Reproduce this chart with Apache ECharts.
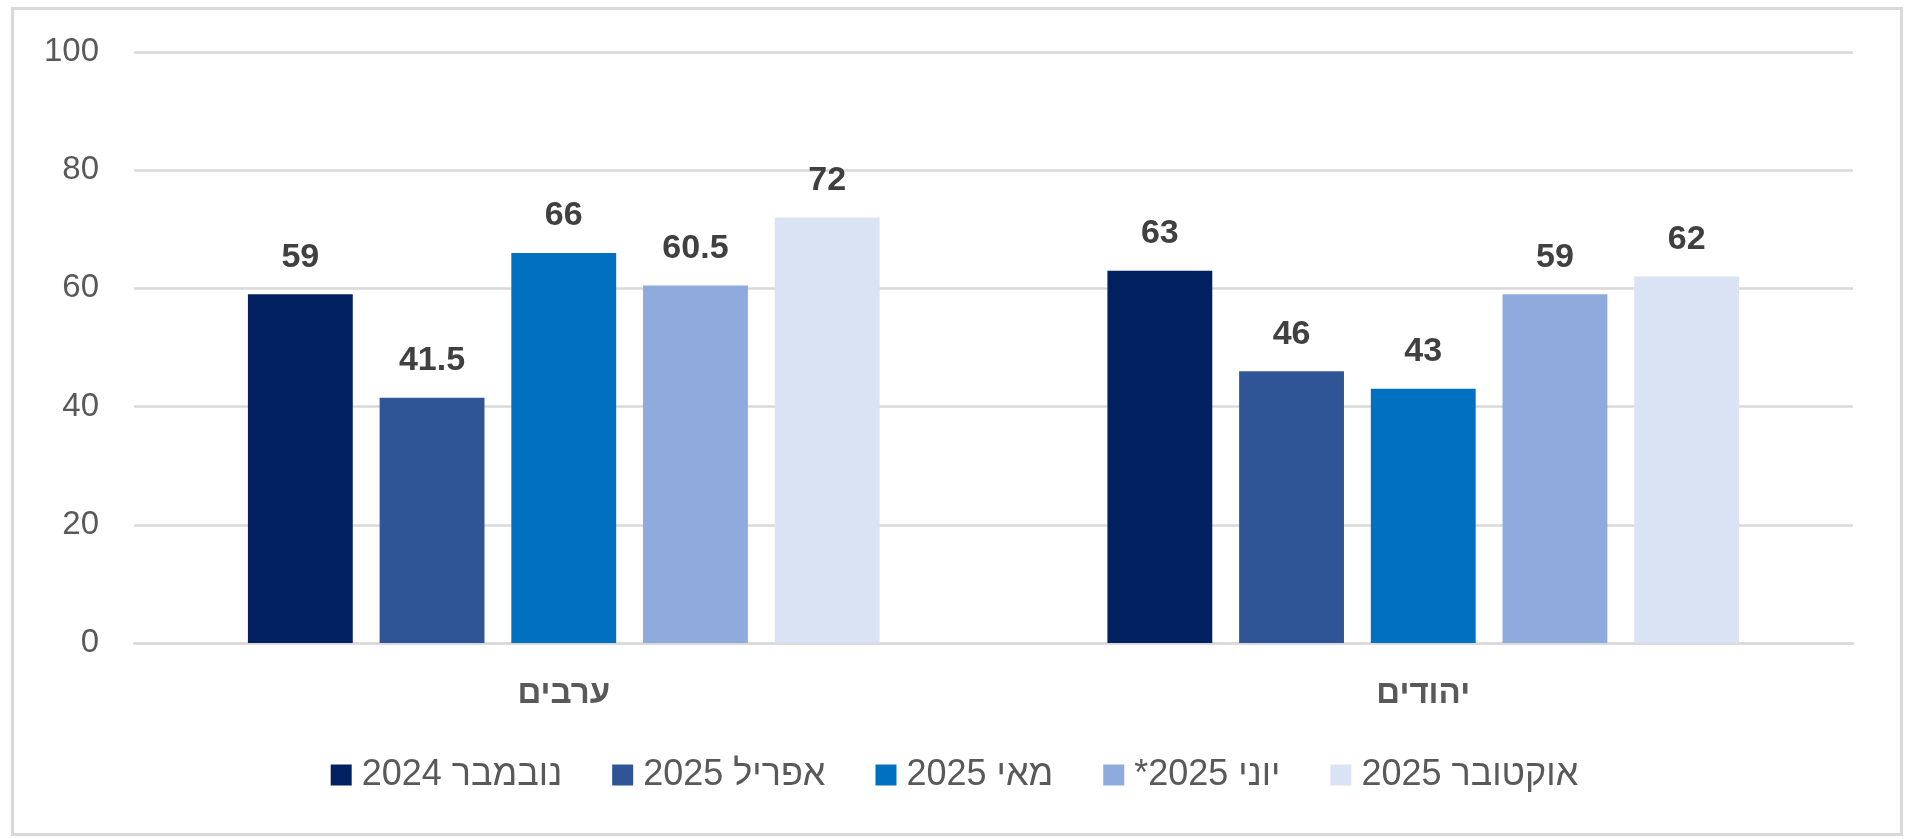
<!DOCTYPE html>
<html><head><meta charset="utf-8">
<script src="https://cdn.jsdelivr.net/npm/echarts@6/dist/echarts.min.js"></script>
<style>html,body{margin:0;padding:0;background:#fff}#c{width:1909px;height:839px}</style>
</head><body><div id="c"></div>
<script>
const categories = ['ערבים', 'יהודים'];
const seriesNames = ['נובמבר 2024', 'אפריל 2025', 'מאי 2025', 'יוני 2025*\u200F', 'אוקטובר 2025'];
const novData = [59, 63];
const aprData = [41.5, 46];
const mayData = [66, 43];
const junData = [60.5, 59];
const octData = [72, 62];
const yTicks = [0, 20, 40, 60, 80, 100];
const colors = ['#002060', '#2F5597', '#0070C0', '#8FAADC', '#DAE3F3'];
const allData = [novData, aprData, mayData, junData, octData];

const FONT = 'Liberation Sans, Arial, sans-serif';
const chart = echarts.init(document.getElementById('c'));
chart.setOption({
  animation: false,
  color: colors,
  graphic: [{type:'rect', left: 10, top: 6, shape:{width:1889, height:826}, style:{fill:'none', stroke:'#D9D9D9', lineWidth:3}, silent:true}],
  grid: {left: 134, right: 56, top: 52, bottom: 196},
  legend: {
    top: 752, left: 'center', itemWidth: 21, itemHeight: 21, itemGap: 50,
    icon: 'rect',
    textStyle: {fontFamily: FONT, fontSize: 36, color: '#595959', padding: [0,0,0,5]},
    data: seriesNames
  },
  xAxis: {
    type: 'category', data: categories,
    axisTick: {show: false},
    axisLine: {lineStyle: {color: '#D9D9D9', width: 2.5}},
    axisLabel: {fontFamily: FONT, fontSize: 33, fontWeight: 'bold', color: '#595959', margin: 34}
  },
  yAxis: {
    type: 'value', min: yTicks[0], max: yTicks[yTicks.length-1], interval: 20,
    axisLine: {show: false}, axisTick: {show: false},
    splitLine: {lineStyle: {color: '#D9D9D9', width: 2.5}},
    axisLabel: {fontFamily: FONT, fontSize: 33, color: '#595959', margin: 35}
  },
  series: seriesNames.map((n, i) => ({
    name: n, type: 'bar', data: allData[i],
    barWidth: '12.2%', barGap: '25.6%',
    itemStyle: {color: colors[i]},
    label: {show: true, position: 'top', distance: 20, fontFamily: FONT, fontSize: 34, fontWeight: 'bold', color: '#404040'}
  }))
});
</script></body></html>
